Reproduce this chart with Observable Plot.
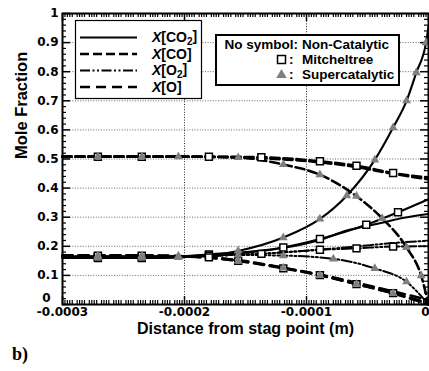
<!DOCTYPE html>
<html><head><meta charset="utf-8">
<script src="https://cdn.jsdelivr.net/npm/d3@7"></script>
<script src="https://cdn.jsdelivr.net/npm/@observablehq/plot@0.6"></script>
<style>
body{margin:0;background:#fff;overflow:hidden}
#wrap{position:relative;width:429px;height:371px;overflow:hidden}
#chart{position:absolute;left:0;top:0}
#leg{position:absolute;left:0;top:0}
#b{position:absolute;left:12px;top:344px;font:bold 18px "Liberation Serif","Times New Roman",serif;color:#000}
</style></head><body>
<div id="wrap"><div id="chart"></div><svg id="leg" width="429" height="371"></svg><div id="b">b)</div></div>
<script>
// ---- data (x in metres, y mole fraction) ----
const co2NonCat = [[-3e-4,0.160],[-2.4e-4,0.160],[-1.8e-4,0.166],[-1.5e-4,0.178],[-1.2e-4,0.194],[-0.9e-4,0.221],[-0.67e-4,0.254],[-0.4e-4,0.279],[-0.2e-4,0.298],[0,0.311]];
const coNonCat  = [[-3e-4,0.508],[-2.0e-4,0.508],[-1.6e-4,0.506],[-1.2e-4,0.499],[-0.9e-4,0.489],[-0.6e-4,0.473],[-0.3e-4,0.450],[0,0.430]];
const o2NonCat  = [[-3e-4,0.165],[-2.4e-4,0.165],[-1.8e-4,0.168],[-1.4e-4,0.174],[-1.0e-4,0.185],[-0.6e-4,0.199],[-0.3e-4,0.211],[0,0.219]];
const oNonCat   = [[-3e-4,0.168],[-2.4e-4,0.168],[-1.9e-4,0.164],[-1.5e-4,0.149],[-1.2e-4,0.127],[-0.9e-4,0.104],[-0.6e-4,0.076],[-0.3e-4,0.046],[0,0.016]];

const co2Mitch = [[-3e-4,0.160],[-2.71e-4,0.160],[-2.35e-4,0.160],[-1.80e-4,0.172],[-1.19e-4,0.196],[-0.89e-4,0.225],[-0.51e-4,0.274],[-0.25e-4,0.317],[0,0.362]];
const coMitch  = [[-3e-4,0.508],[-2.71e-4,0.508],[-2.35e-4,0.508],[-1.80e-4,0.508],[-1.37e-4,0.506],[-0.89e-4,0.492],[-0.59e-4,0.477],[-0.29e-4,0.452],[0,0.436]];
const o2Mitch  = [[-3e-4,0.165],[-2.71e-4,0.165],[-2.35e-4,0.165],[-1.80e-4,0.168],[-1.37e-4,0.174],[-0.89e-4,0.188],[-0.59e-4,0.193],[-0.29e-4,0.199],[0,0.200]];
const oMitch   = [[-3e-4,0.168],[-2.71e-4,0.168],[-2.35e-4,0.168],[-1.80e-4,0.162],[-1.56e-4,0.150],[-1.19e-4,0.124],[-0.89e-4,0.101],[-0.59e-4,0.070],[-0.29e-4,0.039],[0,0.005]];

const co2Super = [[-3e-4,0.160],[-2.71e-4,0.160],[-2.35e-4,0.160],[-2.05e-4,0.162],[-1.56e-4,0.184],[-1.19e-4,0.230],[-0.89e-4,0.294],[-0.67e-4,0.374],[-0.44e-4,0.497],[-0.29e-4,0.608],[-0.18e-4,0.700],[-0.10e-4,0.797],[-0.02e-4,0.900],[0,0.955]];
const coSuper  = [[-3e-4,0.508],[-2.71e-4,0.508],[-2.35e-4,0.508],[-2.05e-4,0.508],[-1.56e-4,0.505],[-1.19e-4,0.481],[-0.89e-4,0.446],[-0.59e-4,0.372],[-0.38e-4,0.296],[-0.18e-4,0.196],[-0.06e-4,0.099],[0,0.0]];
const o2Super  = [[-3e-4,0.165],[-2.71e-4,0.165],[-2.35e-4,0.165],[-2.05e-4,0.165],[-1.56e-4,0.170],[-1.19e-4,0.168],[-0.78e-4,0.157],[-0.44e-4,0.124],[-0.18e-4,0.078],[0,0.0]];
const oSuper   = [[-3e-4,0.168],[-2.71e-4,0.168],[-2.35e-4,0.168],[-2.05e-4,0.166],[-1.56e-4,0.150],[-1.19e-4,0.126],[-0.89e-4,0.100],[-0.59e-4,0.070],[-0.29e-4,0.038],[0,0.0]];

const xMajorTicks = [-3e-4,-2e-4,-1e-4,0];
const xTickLabels = ["-0.0003","-0.0002","-0.0001","0"];
const yMajorTicks = [0.1,0.2,0.3,0.4,0.5,0.6,0.7,0.8,0.9,1];
const yTickLabels = ["0.1","0.2","0.3","0.4","0.5","0.6","0.7","0.8","0.9","1"];
const yZeroLabel = ["0"];
const xMinorTicks = d3.range(-150,1).map(i=>i*2e-6).filter((d,i)=>i%5!==0);
const yMinorTicks = d3.range(0,51).map(i=>i*0.02).filter((d,i)=>i%5!==0);
const speciesLabels = ["CO2","CO","O2","O"];

// ---- styles ----
const styleBy = {
  CO2:{dash:null, w:2.1},
  CO:{dash:"9,4", w:2.6},
  O2:{dash:"10,2.5,2,2.5,2,2.5", w:2},
  O:{dash:"10,6", w:2.6}
};
const groups = [
  {sp:"CO2", d:co2NonCat, m:null},{sp:"CO", d:coNonCat, m:null},{sp:"O2", d:o2NonCat, m:null},{sp:"O", d:oNonCat, m:null},
  {sp:"CO2", d:co2Mitch, m:"sq"},{sp:"CO", d:coMitch, m:"sq"},{sp:"O2", d:o2Mitch, m:"sq"},{sp:"O", d:oMitch, m:"sq"},
  {sp:"CO2", d:co2Super, m:"tri"},{sp:"CO", d:coSuper, m:"tri"},{sp:"O2", d:o2Super, m:"tri"},{sp:"O", d:oSuper, m:"tri"}
];

const W=429, H=345, mL=62, mR=1, mT=13, mB=41;
const plotH = H-mT-mB;
const FONT_TICK = "DejaVu Sans";
const FONT = "Liberation Sans, Arial, sans-serif";
const allY = [0].concat(yMajorTicks);

const marks = [
  Plot.gridX(xMajorTicks.slice(1,3), {stroke:"#000", strokeOpacity:0.85, strokeDasharray:"1,1.6", strokeWidth:1}),
  Plot.gridY(yMajorTicks.slice(0,9), {stroke:"#000", strokeOpacity:0.6, strokeDasharray:"1,1.6", strokeWidth:1}),
  Plot.ruleX(xMajorTicks, {insetTop: plotH-8, stroke:"#000", strokeWidth:1.5}),
  Plot.ruleX(xMajorTicks, {insetBottom: plotH-8, stroke:"#000", strokeWidth:1.5}),
  Plot.ruleX(xMinorTicks, {insetTop: plotH-4, stroke:"#000", strokeWidth:1.2}),
  Plot.ruleX(xMinorTicks, {insetBottom: plotH-4, stroke:"#000", strokeWidth:1.2}),
  Plot.ruleY(allY, {insetRight: (W-mL-mR)-8, stroke:"#000", strokeWidth:1.5}),
  Plot.ruleY(allY, {insetLeft: (W-mL-mR)-8, stroke:"#000", strokeWidth:1.5}),
  Plot.ruleY(yMinorTicks, {insetRight: (W-mL-mR)-4, stroke:"#000", strokeWidth:1.2}),
  Plot.ruleY(yMinorTicks, {insetLeft: (W-mL-mR)-4, stroke:"#000", strokeWidth:1.2}),
];
for (const g of groups) {
  const s = styleBy[g.sp];
  marks.push(Plot.line(g.d, {x:d=>d[0], y:d=>d[1], stroke:"#000", strokeWidth:s.w, strokeDasharray:s.dash, curve:"monotone-x"}));
}
for (const g of groups.filter(g=>g.m==="sq")) {
  marks.push(Plot.dot(g.d.filter(d=>d[0]>-3e-4 && d[0]<0), {x:d=>d[0], y:d=>d[1], symbol:"square", r:3.9, fill:"#fff", stroke:"#000", strokeWidth:1.5}));
}
for (const g of groups.filter(g=>g.m==="tri")) {
  marks.push(Plot.dot(g.d.filter(d=>d[0]>-3e-4 && d[0]<0), {x:d=>d[0], y:d=>d[1], symbol:"triangle", r:3.3, fill:"#7f7f7f", stroke:null}));
}
const tickFont = {fontSize:12, fontFamily:FONT_TICK, fontWeight:"bold", fill:"#000", label:null};
marks.push(
  Plot.frame({stroke:"#000", strokeWidth:2}),
  Plot.axisX(xMajorTicks.slice(0,3), {tickSize:0, tickPadding:3, tickFormat:(d)=>xTickLabels[xMajorTicks.indexOf(d)], ...tickFont}),
  Plot.axisX(xMajorTicks.slice(3), {tickSize:0, tickPadding:3, textAnchor:"end", dx:1, tickFormat:(d)=>xTickLabels[xMajorTicks.indexOf(d)], ...tickFont}),
  Plot.axisY(yMajorTicks, {tickSize:0, tickPadding:4, tickFormat:(d)=>yTickLabels[yMajorTicks.indexOf(d)], ...tickFont}),
  Plot.axisY([0], {tickSize:0, tickPadding:12, dy:-6, tickFormat:()=>yZeroLabel[0], ...tickFont}),
  Plot.text(["Distance from stag point (m)"], {text:d=>d, frameAnchor:"bottom", dy:29, fontSize:16, fontWeight:"bold", fontFamily:FONT, fill:"#000"}),
  Plot.text(["Mole Fraction"], {text:d=>d, frameAnchor:"left", dx:-41, rotate:-90, fontSize:16.5, fontWeight:"bold", fontFamily:FONT, fill:"#000"})
);

const chart = Plot.plot({
  width:W, height:H, marginLeft:mL, marginRight:mR, marginTop:mT, marginBottom:mB,
  x:{domain:[-3e-4,0], axis:null},
  y:{domain:[0,1], axis:null},
  style:{fontFamily:FONT, color:"#000", background:"transparent", overflow:"visible"},
  marks
});
document.getElementById("chart").appendChild(chart);

// ---- legends ----
const svg = d3.select("#leg");
const L1 = svg.append("g");
L1.append("rect").attr("x",75.5).attr("y",20.5).attr("width",126).attr("height",78).attr("fill","#fff").attr("stroke","#000").attr("stroke-width",1.2);
const rows = [37.5,54,70.5,87];
speciesLabels.forEach((sp,i)=>{
  const s = styleBy[sp];
  L1.append("line").attr("x1",80).attr("x2",137).attr("y1",rows[i]).attr("y2",rows[i])
    .attr("stroke","#000").attr("stroke-width",s.w).attr("stroke-dasharray",s.dash);
  const t = L1.append("text").attr("x",152).attr("y",rows[i]).attr("dy","0.35em")
    .attr("font-family",FONT).attr("font-weight","bold").attr("font-size",14);
  t.append("tspan").attr("font-style","italic").text("X");
  const base = sp.replace("2","");
  t.append("tspan").text("[" + base);
  if (sp.includes("2")) t.append("tspan").attr("font-size",10).attr("dy","0.3em").text("2");
  t.append("tspan").attr("dy", sp.includes("2") ? "-0.3em" : null).text("]");
});
const L2 = svg.append("g");
L2.append("rect").attr("x",216).attr("y",35).attr("width",183).attr("height",50).attr("fill","#fff").attr("stroke","#000").attr("stroke-width",2);
const t2 = {"font-family":FONT, "font-weight":"bold", "font-size":13.5};
function txt(x,y,s,anchor){const e=L2.append("text").attr("x",x).attr("y",y).attr("dy","0.35em").attr("text-anchor",anchor||"start").text(s);for(const k in t2)e.attr(k,t2[k]);return e;}
txt(298,44.5,"No symbol:","end");
txt(302,44.5,"Non-Catalytic");
L2.append("rect").attr("x",277.5).attr("y",55.5).attr("width",8).attr("height",8).attr("fill","#fff").attr("stroke","#000").attr("stroke-width",1.5);
txt(289,59.5,":");
txt(302,59.5,"Mitcheltree");
L2.append("path").attr("d",d3.symbol(d3.symbolTriangle, 48)()).attr("transform","translate(281.5,75)").attr("fill","#7f7f7f");
txt(289,74.5,":");
txt(302,74.5,"Supercatalytic");
</script>
</body></html>
